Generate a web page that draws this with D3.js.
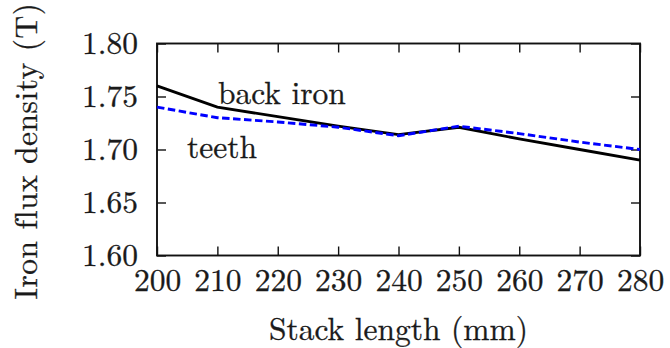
<!DOCTYPE html>
<html>
<head>
<meta charset="utf-8">
<script src="https://cdn.jsdelivr.net/npm/d3@7"></script>
<style>
  html, body { margin: 0; padding: 0; background: #fff; }
</style>
</head>
<body>
<svg id="chart" width="670" height="348"></svg>
<script>
// Stack length sweep (mm)
const stackLength = [200, 210, 220, 230, 240, 250, 260, 270, 280];
// Peak iron flux density (T)
const backIron = [1.760, 1.740, 1.731, 1.722, 1.714, 1.721, 1.710, 1.700, 1.690];
const teeth    = [1.740, 1.730, 1.726, 1.721, 1.713, 1.722, 1.715, 1.707, 1.700];

const xTicks = [200, 210, 220, 230, 240, 250, 260, 270, 280];
const yTicks = [1.60, 1.65, 1.70, 1.75, 1.80];

const FONT = '"Latin Modern Roman", "Liberation Serif", serif';
const fs = 31.5;
const INK = "#1a1a1a";
const tickLen = 9;

const margin = { left: 157, right: 30, top: 43.5, bottom: 92.5 };
const W = 670, H = 348;
const svg = d3.select("#chart");

const x = d3.scaleLinear().domain([200, 280]).range([margin.left, W - margin.right]);
const y = d3.scaleLinear().domain([1.60, 1.80]).range([H - margin.bottom, margin.top]);

// Axes (ticks pointing inward, mirrored on top and right)
const xBottom = d3.axisBottom(x).tickValues(xTicks).tickSize(-tickLen).tickPadding(13).tickFormat(d3.format("d"));
const xTop = d3.axisTop(x).tickValues(xTicks).tickSize(-tickLen).tickFormat("");
const yLeft = d3.axisLeft(y).tickValues(yTicks).tickSize(-tickLen).tickPadding(19).tickFormat(d3.format(".2f"));
const yRight = d3.axisRight(y).tickValues(yTicks).tickSize(-tickLen).tickFormat("");

function style(g) {
  g.select(".domain").remove();
  g.selectAll(".tick line").attr("stroke", "#111").attr("stroke-width", 1.4);
  g.selectAll(".tick text")
    .style("font-family", FONT).style("font-size", fs + "px").style("fill", INK)
    .style("stroke", INK).style("stroke-width", 0.3);
}

svg.append("g").attr("transform", `translate(0,${y(1.60)})`).call(xBottom).call(style);
svg.append("g").attr("transform", `translate(0,${y(1.80)})`).call(xTop).call(style);
svg.append("g").attr("transform", `translate(${x(200)},0)`).call(yLeft).call(style);
svg.append("g").attr("transform", `translate(${x(280)},0)`).call(yRight).call(style);

// Plot frame
svg.append("rect")
  .attr("x", x(200)).attr("y", y(1.80))
  .attr("width", x(280) - x(200)).attr("height", y(1.60) - y(1.80))
  .attr("fill", "none").attr("stroke", "#111").attr("stroke-width", 1.9);

const line = d3.line().x(d => x(d[0])).y(d => y(d[1]));

svg.append("path")
  .datum(stackLength.map((s, i) => [s, backIron[i]]))
  .attr("d", line)
  .attr("fill", "none").attr("stroke", "#000").attr("stroke-width", 2.9);

svg.append("path")
  .datum(stackLength.map((s, i) => [s, teeth[i]]))
  .attr("d", line)
  .attr("fill", "none").attr("stroke", "#0000ff").attr("stroke-width", 2.9)
  .attr("stroke-dasharray", "7.5,3.5");

function label(sel) {
  return sel.style("font-family", FONT).style("font-size", fs + "px").style("fill", INK)
    .style("stroke", INK).style("stroke-width", 0.3);
}

// Series labels
svg.append("text").attr("x", 218).attr("y", 104).call(label).text("back iron");
svg.append("text").attr("x", 187).attr("y", 158).call(label).text("teeth");

// Axis titles
svg.append("text")
  .attr("x", (x(200) + x(280)) / 2).attr("y", 340)
  .attr("text-anchor", "middle").call(label)
  .text("Stack length (mm)");

svg.append("text")
  .attr("transform", `translate(37,151) rotate(-90)`)
  .attr("text-anchor", "middle").call(label)
  .style("letter-spacing", "0.5px")
  .text("Iron flux density (T)");
</script>
</body>
</html>
